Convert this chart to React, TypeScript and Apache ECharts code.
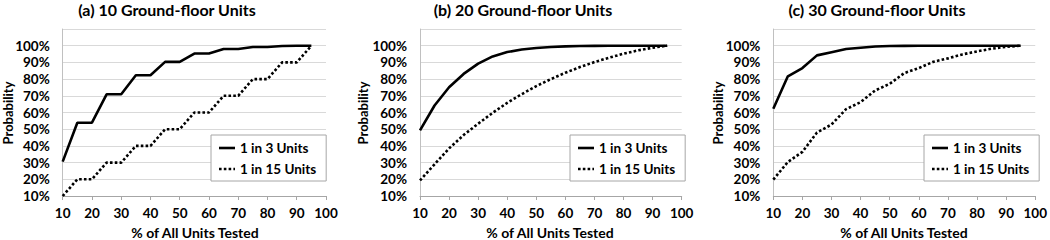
import React, { useEffect, useRef } from "react";
import * as echarts from "echarts";

const xValues = [10, 15, 20, 25, 30, 35, 40, 45, 50, 55, 60, 65, 70, 75, 80, 85, 90, 95];
const xTicks = [10, 20, 30, 40, 50, 60, 70, 80, 90, 100];
const yTicks = [10, 20, 30, 40, 50, 60, 70, 80, 90, 100];

const titles = ["(a) 10 Ground-floor Units", "(b) 20 Ground-floor Units", "(c) 30 Ground-floor Units"];
const seriesNames = ["1 in 3 Units", "1 in 15 Units"];

const a1in3 = [30.6, 53.9, 53.9, 70.9, 70.9, 82.3, 82.3, 90.3, 90.3, 95.3, 95.3, 98, 98, 99.2, 99.2, 99.8, 100, 100];
const a1in15 = [10, 20, 20, 30, 30, 40, 40, 50, 50, 60, 60, 70, 70, 80, 80, 90, 90, 100];
const b1in3 = [49.3, 64.2, 75.1, 83.1, 89.3, 93.6, 96.2, 97.7, 98.6, 99.2, 99.6, 99.8, 99.9, 100, 100, 100, 100, 100];
const b1in15 = [19.3, 29, 38.5, 46.5, 53.3, 59.8, 65.8, 71, 75.8, 80, 83.8, 87.2, 90.2, 92.8, 95.2, 97.2, 98.8, 100];
const c1in3 = [62.2, 81.7, 86.6, 94.2, 96.1, 98, 98.8, 99.5, 99.8, 99.9, 100, 100, 100, 100, 100, 100, 100, 100];
const c1in15 = [19.8, 30.4, 36.4, 48, 52.8, 62, 66.2, 73.2, 77.2, 83.6, 86.6, 90.4, 92.4, 94.8, 96.6, 98.2, 99.3, 100];

const panels = [
  { solid: a1in3, dotted: a1in15 },
  { solid: b1in3, dotted: b1in15 },
  { solid: c1in3, dotted: c1in15 },
];

const FONT = "Lato, 'Open Sans', sans-serif";
const SOLID_ICON = "path://M0,0H16V2.6H0Z";
const DOTTED_ICON = "path://M0,0H2.6V2.6H0Z M4.8,0H7.4V2.6H4.8Z M9.6,0H12.2V2.6H9.6Z M14.4,0H16V2.6H14.4Z";

export default function App() {
  const ref = useRef<HTMLDivElement>(null);
  useEffect(() => {
    if (!ref.current) return;
    const chart = echarts.init(ref.current, undefined, { renderer: "svg" });

    const gridLefts = [62.7, 420, 773.3];
    const gridWidths = [263.3, 261.7, 262.7];
    const gridTop = 29;
    const gridHeight = 167;
    const legendLefts = [211, 570, 924];
    const titleCenters = [167, 523, 877];
    const xNameCenters = [195, 550, 904];
    const yNameX = [8, 363, 718];

    const grid = gridLefts.map((l, i) => ({
      left: l,
      top: gridTop,
      width: gridWidths[i],
      height: gridHeight,
      containLabel: false,
    }));

    const xAxis = gridLefts.map((_, i) => ({
      type: "value",
      gridIndex: i,
      min: xTicks[0],
      max: xTicks[xTicks.length - 1],
      interval: 10,
      axisLine: { show: true, lineStyle: { color: "#a6a6a6", width: 1 } },
      axisTick: { show: true, length: 4, lineStyle: { color: "#a6a6a6" } },
      splitLine: { show: false },
      axisLabel: {
        margin: 10,
        color: "#000",
        fontFamily: FONT,
        fontWeight: "bold",
        fontSize: 13.5,
      },
    }));

    const yAxis = gridLefts.map((_, i) => ({
      type: "value",
      gridIndex: i,
      min: yTicks[0],
      max: 110,
      interval: 10,
      axisLine: { show: true, lineStyle: { color: "#c0c0c0", width: 1 } },
      axisTick: { show: false },
      splitLine: { show: true, lineStyle: { color: "#d9d9d9", width: 1 } },
      axisLabel: {
        margin: 13,
        color: "#000",
        fontFamily: FONT,
        fontWeight: "bold",
        fontSize: 13.5,
        formatter: (v: number) => (v > 100.5 ? "" : `${Math.round(v)}%`),
      },
    }));

    const series: any[] = [];
    panels.forEach((p, i) => {
      series.push({
        type: "line",
        name: seriesNames[0],
        xAxisIndex: i,
        yAxisIndex: i,
        data: xValues.map((x, k) => [x, p.solid[k]]),
        symbol: "none",
        lineStyle: { color: "#000", width: 2.6, type: "solid" },
        itemStyle: { color: "#000" },
      });
      series.push({
        type: "line",
        name: seriesNames[1],
        xAxisIndex: i,
        yAxisIndex: i,
        data: xValues.map((x, k) => [x, p.dotted[k]]),
        symbol: "none",
        lineStyle: { color: "#000", width: 2.6, type: [2.6, 2.2], cap: "butt" },
        itemStyle: { color: "#000" },
      });
    });

    const legend = legendLefts.map((l) => ({
      data: [
        { name: seriesNames[0], icon: SOLID_ICON },
        { name: seriesNames[1], icon: DOTTED_ICON },
      ],
      left: l,
      top: 135,
      orient: "vertical",
      itemWidth: 16,
      itemHeight: 12,
      itemGap: 7,
      padding: [6, 10, 5, 8],
      borderColor: "#a6a6a6",
      borderWidth: 1,
      backgroundColor: "#fff",
      selectedMode: false,
      itemStyle: { color: "#000" },
      textStyle: { color: "#000", fontFamily: FONT, fontWeight: "bold", fontSize: 13.5 },
    }));

    const graphic: any[] = [];
    titles.forEach((t, i) => {
      graphic.push({
        type: "text",
        x: titleCenters[i],
        y: 9,
        style: {
          text: t,
          align: "center",
          verticalAlign: "middle",
          font: `bold 16px ${FONT}`,
          fill: "#000",
        },
      });
      graphic.push({
        type: "text",
        x: xNameCenters[i],
        y: 232,
        style: {
          text: "% of All Units Tested",
          align: "center",
          verticalAlign: "middle",
          font: `bold 14px ${FONT}`,
          fill: "#000",
        },
      });
      graphic.push({
        type: "text",
        x: yNameX[i],
        y: 113,
        rotation: Math.PI / 2,
        style: {
          text: "Probability",
          align: "center",
          verticalAlign: "middle",
          font: `bold 13px ${FONT}`,
          fill: "#000",
        },
      });
    });

    chart.setOption({
      animation: false,
      backgroundColor: "#fff",
      grid,
      xAxis,
      yAxis,
      series,
      legend,
      graphic,
    });
    return () => chart.dispose();
  }, []);
  return (
    <div
      ref={ref}
      style={{ position: "fixed", left: 0, top: 0, width: 1050, height: 240 }}
    />
  );
}
